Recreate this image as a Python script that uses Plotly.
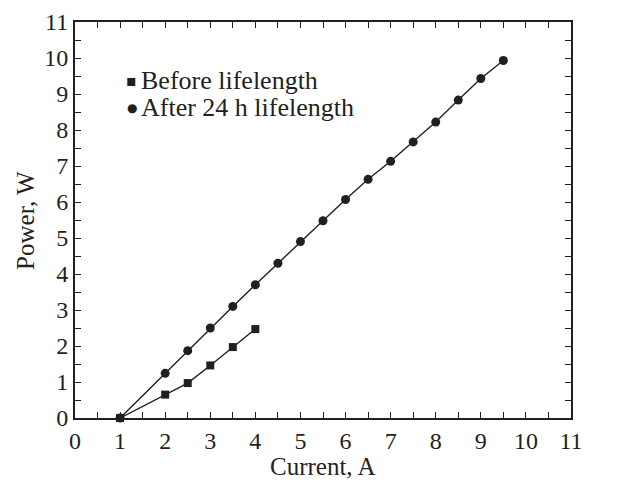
import plotly.graph_objects as go

# Measured power vs. current
current_before = [1, 2, 2.5, 3, 3.5, 4]
power_before = [0, 0.65, 0.97, 1.46, 1.97, 2.47]

current_after = [1, 2, 2.5, 3, 3.5, 4, 4.5, 5, 5.5, 6, 6.5, 7, 7.5, 8, 8.5, 9, 9.5]
power_after = [0, 1.24, 1.87, 2.5, 3.1, 3.7, 4.3, 4.9, 5.48, 6.07, 6.63,
               7.13, 7.67, 8.22, 8.83, 9.43, 9.93]

legend_before = "Before lifelength"
legend_after = "After 24 h lifelength"

INK = "#231f20"
FONT = "Liberation Serif"
TICK_SIZE = 24
TEXT_SIZE = 25
KEY_SIZE = 26

fig = go.Figure()

# connecting lines
for xs, ys in [(current_before, power_before), (current_after, power_after)]:
    fig.add_trace(go.Scatter(x=xs, y=ys, mode="lines",
                             line=dict(color=INK, width=1.4),
                             showlegend=False, hoverinfo="skip"))

# markers
fig.add_trace(go.Scatter(x=current_before, y=power_before, mode="markers",
                         name=legend_before, showlegend=False,
                         marker=dict(symbol="square", size=8, color=INK),
                         cliponaxis=False))
fig.add_trace(go.Scatter(x=current_after, y=power_after, mode="markers",
                         name=legend_after, showlegend=False,
                         marker=dict(symbol="circle", size=9, color=INK),
                         cliponaxis=False))

# compact key in the upper-left corner: symbol glyph + label per row
key_rows = [("\u25aa", legend_before, 0.853), ("\u25cf", legend_after, 0.783)]
for glyph, label, ypos in key_rows:
    fig.add_annotation(xref="paper", yref="paper", x=0.114, y=ypos,
                       xanchor="center", yanchor="middle", showarrow=False,
                       text=glyph,
                       font=dict(family="DejaVu Sans", size=12 if glyph == "\u25cf" else 16,
                                 color=INK))
    fig.add_annotation(xref="paper", yref="paper", x=0.132, y=ypos,
                       xanchor="left", yanchor="middle", showarrow=False,
                       text=label, borderpad=0,
                       font=dict(family=FONT, size=KEY_SIZE, color=INK))

# axis titles placed below / left of the tick labels
fig.add_annotation(xref="paper", yref="paper", x=0.5, y=-0.122,
                   xanchor="center", yanchor="middle", showarrow=False, borderpad=0,
                   text="Current, A", font=dict(family=FONT, size=TEXT_SIZE, color=INK))
fig.add_annotation(xref="paper", yref="paper", x=-0.101, y=0.5,
                   xanchor="center", yanchor="middle", showarrow=False, textangle=-90,
                   borderpad=0,
                   text="Power, W", font=dict(family=FONT, size=TEXT_SIZE, color=INK))

axis_common = dict(
    range=[0, 11], dtick=1, tick0=0, automargin=False,
    showline=True, linecolor=INK, linewidth=2, mirror="ticks",
    ticks="inside", ticklen=6, tickwidth=1.3, tickcolor=INK,
    minor=dict(dtick=0.5, ticks="inside", ticklen=6, tickwidth=1.3, tickcolor=INK),
    showgrid=False, zeroline=False,
    tickfont=dict(family=FONT, size=TICK_SIZE, color=INK),
)

fig.update_layout(
    width=621, height=480,
    margin=dict(l=75, r=50, t=22, b=62),
    paper_bgcolor="white", plot_bgcolor="white",
    font=dict(family=FONT, size=TEXT_SIZE, color=INK),
    showlegend=False,
    xaxis=axis_common,
    yaxis=axis_common,
)

fig.write_html("out.html")
